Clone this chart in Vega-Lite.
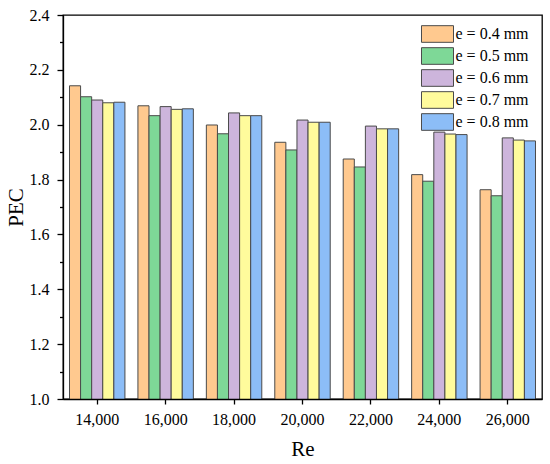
{
  "$schema": "https://vega.github.io/schema/vega-lite/v6.json",
  "autosize": "none",
  "width": 479,
  "height": 384,
  "padding": {"left": 63, "top": 15, "right": 8, "bottom": 65},
  "background": "white",
  "config": {
    "view": {"stroke": "black", "strokeWidth": 1.3},
    "font": "Liberation Serif",
    "axis": {"titleFontWeight": "normal"}
  },
  "data": {
    "values": [
      {"Re": 14000, "e": 0.4, "PEC": 2.142},
      {"Re": 14000, "e": 0.5, "PEC": 2.102},
      {"Re": 14000, "e": 0.6, "PEC": 2.090},
      {"Re": 14000, "e": 0.7, "PEC": 2.080},
      {"Re": 14000, "e": 0.8, "PEC": 2.082},
      {"Re": 16000, "e": 0.4, "PEC": 2.069},
      {"Re": 16000, "e": 0.5, "PEC": 2.033},
      {"Re": 16000, "e": 0.6, "PEC": 2.066},
      {"Re": 16000, "e": 0.7, "PEC": 2.056},
      {"Re": 16000, "e": 0.8, "PEC": 2.058},
      {"Re": 18000, "e": 0.4, "PEC": 1.999},
      {"Re": 18000, "e": 0.5, "PEC": 1.967},
      {"Re": 18000, "e": 0.6, "PEC": 2.043},
      {"Re": 18000, "e": 0.7, "PEC": 2.033},
      {"Re": 18000, "e": 0.8, "PEC": 2.033},
      {"Re": 20000, "e": 0.4, "PEC": 1.936},
      {"Re": 20000, "e": 0.5, "PEC": 1.908},
      {"Re": 20000, "e": 0.6, "PEC": 2.017},
      {"Re": 20000, "e": 0.7, "PEC": 2.009},
      {"Re": 20000, "e": 0.8, "PEC": 2.009},
      {"Re": 22000, "e": 0.4, "PEC": 1.875},
      {"Re": 22000, "e": 0.5, "PEC": 1.846},
      {"Re": 22000, "e": 0.6, "PEC": 1.995},
      {"Re": 22000, "e": 0.7, "PEC": 1.985},
      {"Re": 22000, "e": 0.8, "PEC": 1.985},
      {"Re": 24000, "e": 0.4, "PEC": 1.818},
      {"Re": 24000, "e": 0.5, "PEC": 1.794},
      {"Re": 24000, "e": 0.6, "PEC": 1.973},
      {"Re": 24000, "e": 0.7, "PEC": 1.966},
      {"Re": 24000, "e": 0.8, "PEC": 1.964},
      {"Re": 26000, "e": 0.4, "PEC": 1.763},
      {"Re": 26000, "e": 0.5, "PEC": 1.741},
      {"Re": 26000, "e": 0.6, "PEC": 1.952},
      {"Re": 26000, "e": 0.7, "PEC": 1.944},
      {"Re": 26000, "e": 0.8, "PEC": 1.941}
    ]
  },
  "mark": {"type": "bar", "stroke": "#4a4a4a", "strokeWidth": 1, "opacity": 1, "clip": true},
  "encoding": {
    "x": {
      "field": "Re",
      "type": "ordinal",
      "scale": {"paddingInner": 0.19, "paddingOuter": 0.095},
      "axis": {
        "title": "Re",
        "format": ",",
        "formatType": "number",
        "labelAngle": 0,
        "labelFont": "Liberation Serif",
        "labelFontSize": 16,
        "labelColor": "black",
        "labelPadding": 7,
        "tickSize": 5,
        "tickColor": "black",
        "tickWidth": 1.3,
        "domainColor": "black",
        "domainWidth": 1.3,
        "titleFont": "Liberation Serif",
        "titleFontSize": 21,
        "titleFontWeight": "normal",
        "titleColor": "black",
        "titlePadding": 11,
        "zindex": 1
      }
    },
    "xOffset": {
      "field": "e",
      "type": "nominal",
      "scale": {"paddingInner": 0, "paddingOuter": 0}
    },
    "y": {
      "field": "PEC",
      "type": "quantitative",
      "scale": {"domain": [1.0, 2.4], "nice": false, "zero": false},
      "axis": {
        "title": "PEC",
        "values": [1.0, 1.1, 1.2, 1.3, 1.4, 1.5, 1.6, 1.7, 1.8, 1.9, 2.0, 2.1, 2.2, 2.3, 2.4],
        "labelExpr": "round(datum.value * 10) % 2 == 0 ? format(datum.value, '.1f') : ''",
        "tickSize": {"condition": {"test": "round(datum.value * 10) % 2 == 1", "value": 3.5}, "value": 6},
        "grid": false,
        "labelFont": "Liberation Serif",
        "labelFontSize": 16,
        "labelColor": "black",
        "labelPadding": 8,
        "tickColor": "black",
        "tickWidth": 1.3,
        "domainColor": "black",
        "domainWidth": 1.3,
        "titleFont": "Liberation Serif",
        "titleFontSize": 21,
        "titleFontWeight": "normal",
        "titleColor": "black",
        "titlePadding": 3,
        "zindex": 1
      }
    },
    "color": {
      "field": "e",
      "type": "nominal",
      "scale": {
        "domain": [0.4, 0.5, 0.6, 0.7, 0.8],
        "range": ["#FFC98F", "#7ED897", "#CDB5DC", "#FFFB9C", "#8CBDF7"]
      },
      "legend": {
        "orient": "none",
        "legendX": 364.5,
        "legendY": 9,
        "title": null,
        "padding": 0,
        "symbolType": "M-1.75,-0.91L1.75,-0.91L1.75,0.91L-1.75,0.91Z",
        "symbolSize": 335,
        "symbolStrokeColor": "#4a4a4a",
        "symbolStrokeWidth": 1,
        "symbolOpacity": 1,
        "labelExpr": "'e = ' + format(datum.value, '.1f') + ' mm'",
        "labelFont": "Liberation Serif",
        "labelFontSize": 16,
        "labelColor": "black",
        "labelOffset": 8,
        "rowPadding": 0
      }
    }
  }
}
